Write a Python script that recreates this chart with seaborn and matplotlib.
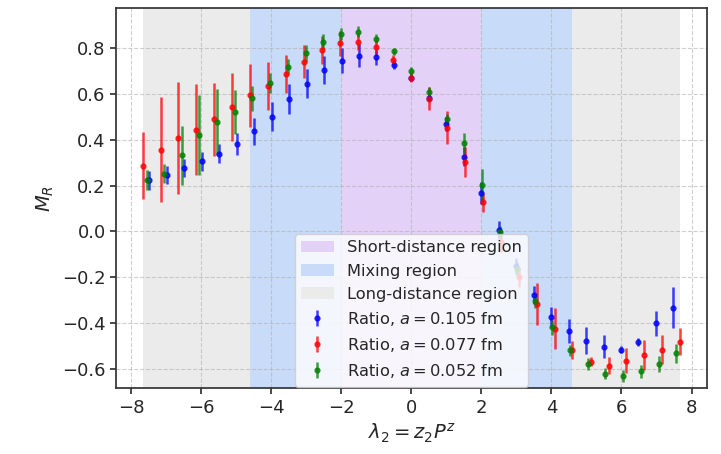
import numpy as np
import matplotlib
matplotlib.use("Agg")
import matplotlib.pyplot as plt
import seaborn as sns

# ---- data ----
x_b = [-7.48, -6.98, -6.48, -5.98, -5.49, -4.99, -4.49, -3.99, -3.49, -2.99, -2.49,
       -1.99, -1.50, -1.00, -0.50, 0.00, 0.50, 1.00, 1.50, 1.99, 2.49, 2.99, 3.49,
       3.99, 4.49, 4.99, 5.49, 5.98, 6.48, 6.98, 7.48]
y_b = [0.224, 0.247, 0.277, 0.306, 0.340, 0.381, 0.437, 0.502, 0.579, 0.646, 0.705,
       0.745, 0.767, 0.760, 0.728, 0.672, 0.585, 0.469, 0.326, 0.168, 0.006, -0.150,
       -0.276, -0.373, -0.434, -0.477, -0.503, -0.516, -0.484, -0.401, -0.332]
e_b = [0.042, 0.040, 0.040, 0.040, 0.043, 0.049, 0.058, 0.062, 0.067, 0.064, 0.060,
       0.055, 0.050, 0.031, 0.020, 0.012, 0.015, 0.030, 0.041, 0.046, 0.040, 0.036,
       0.040, 0.045, 0.054, 0.058, 0.049, 0.015, 0.018, 0.055, 0.090]

x_r = [-7.67, -7.16, -6.65, -6.14, -5.63, -5.12, -4.60, -4.09, -3.58, -3.07, -2.56,
       -2.04, -1.53, -1.02, -0.51, 0.00, 0.51, 1.02, 1.53, 2.04, 2.56, 3.07, 3.58,
       4.09, 4.60, 5.12, 5.63, 6.14, 6.65, 7.16, 7.67]
y_r = [0.288, 0.357, 0.408, 0.444, 0.489, 0.543, 0.595, 0.635, 0.687, 0.742, 0.793,
       0.822, 0.828, 0.806, 0.749, 0.671, 0.579, 0.454, 0.304, 0.127, -0.044, -0.198,
       -0.317, -0.424, -0.516, -0.569, -0.586, -0.564, -0.538, -0.516, -0.481]
e_r = [0.147, 0.230, 0.243, 0.198, 0.160, 0.150, 0.137, 0.106, 0.083, 0.073, 0.060,
       0.055, 0.035, 0.030, 0.020, 0.020, 0.050, 0.070, 0.067, 0.040, 0.045, 0.044,
       0.093, 0.091, 0.040, 0.020, 0.038, 0.055, 0.065, 0.063, 0.060]

x_g = [-7.56, -7.06, -6.55, -6.05, -5.54, -5.04, -4.54, -4.03, -3.53, -3.02, -2.52,
       -2.02, -1.51, -1.01, -0.50, 0.00, 0.50, 1.01, 1.51, 2.02, 2.52, 3.02, 3.53,
       4.03, 4.54, 5.04, 5.54, 6.05, 6.55, 7.06, 7.56]
y_g = [0.226, 0.253, 0.333, 0.422, 0.477, 0.522, 0.581, 0.650, 0.720, 0.778, 0.829,
       0.864, 0.872, 0.842, 0.786, 0.701, 0.610, 0.491, 0.386, 0.201, -0.004, -0.164,
       -0.303, -0.419, -0.518, -0.579, -0.620, -0.630, -0.611, -0.579, -0.531]
e_g = [0.044, 0.043, 0.128, 0.176, 0.145, 0.097, 0.055, 0.044, 0.033, 0.038, 0.033,
       0.026, 0.023, 0.020, 0.015, 0.016, 0.020, 0.022, 0.042, 0.072, 0.030, 0.030,
       0.030, 0.034, 0.024, 0.026, 0.025, 0.025, 0.029, 0.036, 0.041]

labels = ["Ratio, $a=0.105$ fm", "Ratio, $a=0.077$ fm", "Ratio, $a=0.052$ fm"]
region_labels = ["Short-distance region", "Mixing region", "Long-distance region"]
short_lim = [-2.0, 2.0]
mix_lim = 4.6
long_lim = 7.67

# ---- plot ----
sns.set_theme(style="ticks")
plt.rcParams["font.family"] = ["DejaVu Sans"]
fig = plt.figure(figsize=(7.21, 4.54), dpi=100)
ax = fig.add_axes([0.161, 0.145, 0.819, 0.837])

ax.axvspan(short_lim[0], short_lim[1], color="#e4d1f8", lw=0, label=region_labels[0], zorder=0)
ax.axvspan(-mix_lim, short_lim[0], color="#c8dbf8", lw=0, label=region_labels[1], zorder=0)
ax.axvspan(short_lim[1], mix_lim, color="#c8dbf8", lw=0, zorder=0)
ax.axvspan(-long_lim, -mix_lim, color="#ebebeb", lw=0, label=region_labels[2], zorder=0)
ax.axvspan(mix_lim, long_lim, color="#ebebeb", lw=0, zorder=0)

for xs, ys, es, c, lab in [(x_b, y_b, e_b, "blue", labels[0]),
                           (x_r, y_r, e_r, "red", labels[1]),
                           (x_g, y_g, e_g, "green", labels[2])]:
    ax.errorbar(xs, ys, yerr=es, fmt="o", color=c, ms=3.5, elinewidth=1.8,
                capsize=0, alpha=0.75, label=lab, zorder=3)

ax.grid(True, linestyle="--", color="#b0b0b0", alpha=0.6, lw=0.8)
ax.set_xlim(-8.43, 8.43)
ax.set_ylim(-0.684, 0.975)
ax.set_xticks([-8, -6, -4, -2, 0, 2, 4, 6, 8])
ax.set_yticks([-0.6, -0.4, -0.2, 0.0, 0.2, 0.4, 0.6, 0.8])
ax.tick_params(labelsize=13, length=4, color="#333333")
for s in ax.spines.values():
    s.set_color("#333333")
ax.set_xlabel(r"$\lambda_2 = z_2 P^z$", fontsize=14)
ax.set_ylabel(r"$M_R$", fontsize=14)

ax.legend(loc="lower center", bbox_to_anchor=(0.5, 0.0), borderaxespad=0.1,
          fontsize=11.7, framealpha=0.8, handlelength=2.0)

fig.savefig("out.png", dpi=100)
